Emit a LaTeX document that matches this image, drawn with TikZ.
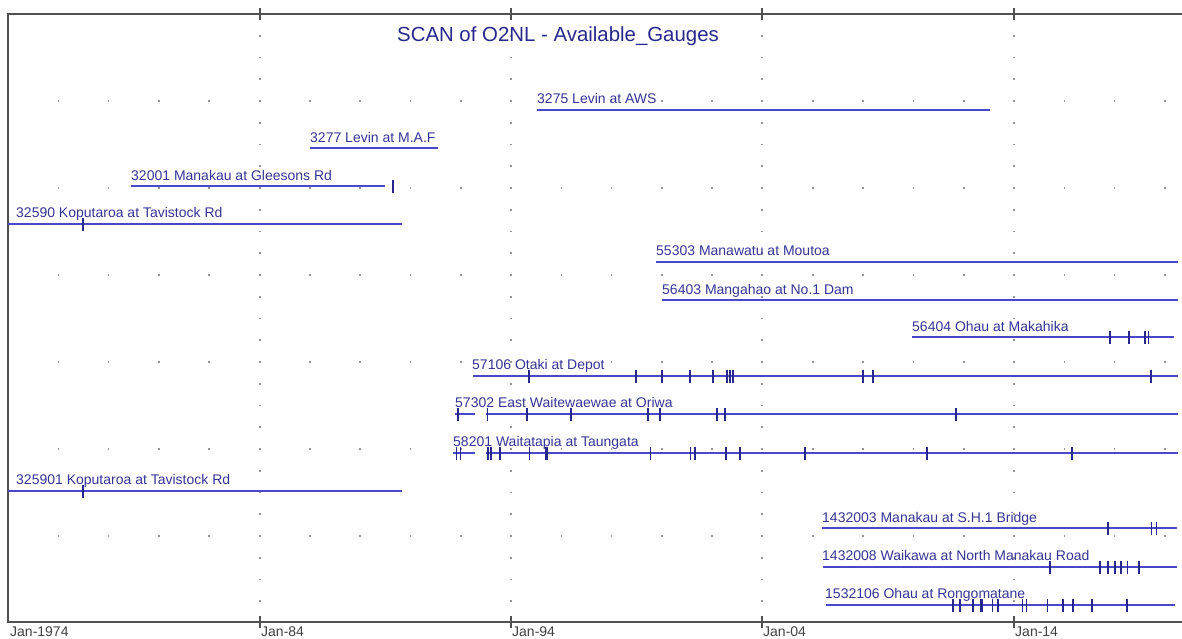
\documentclass[tikz,border=0pt]{standalone}
\usepackage{fontspec}
\setmainfont{Liberation Sans}
\definecolor{gline}{RGB}{72,72,200}
\definecolor{gtext}{RGB}{52,52,150}
\definecolor{gtick}{RGB}{40,40,140}
\definecolor{framecol}{RGB}{80,80,80}
\definecolor{griddot}{RGB}{150,150,150}
\tikzset{
  gaugeline/.style={gline, line width=1.4pt},
  gaugetick/.style={gtick, line width=1.2pt},
  thicktick/.style={gtick, line width=2.6pt},
  gaugelabel/.style={anchor=base west, inner sep=0pt, text=gtext, font=\fontsize{14}{16}\selectfont},
  axislabel/.style={anchor=base west, inner sep=0pt, text=black!75, font=\fontsize{14}{16}\selectfont},
  titlelabel/.style={anchor=base, inner sep=0pt, text=gtick, font=\fontsize{20.4}{22}\selectfont},
  framestyle/.style={framecol, line width=1.4pt},
}
\begin{document}
\begin{tikzpicture}[x=1pt,y=-1pt]
\useasboundingbox (0,0) rectangle (1182,638);
\clip (0,0) rectangle (1182,638);
% grid dots
\foreach \gx in {260,511,762,1014}{
  \foreach \k in {1,...,27}{
    \fill[griddot] (\gx-0.8,14+\k*21.75-0.8) rectangle ++(1.6,1.6);
  }
}
\foreach \gy in {101,188,275,362,449,536}{
  \foreach \k in {1,...,23}{
    \fill[griddot] (8+\k*50.3-0.8,\gy-0.8) rectangle ++(1.6,1.6);
  }
}
% frame
\draw[framestyle] (1182,14) -- (8,14) -- (8,622) -- (1182,622);
\foreach \gx in {260,511,762,1014}{
  \draw[framestyle] (\gx,8) -- (\gx,20);
  \draw[framestyle] (\gx,616) -- (\gx,628);
}
% axis labels
\node[axislabel] (ax74) at (10,636.5) {Jan-1974};
\node[axislabel] (ax84) at (261,636.5) {Jan-84};
\node[axislabel] (ax94) at (512,636.5) {Jan-94};
\node[axislabel] (ax04) at (763,636.5) {Jan-04};
\node[axislabel] (ax14) at (1015,636.5) {Jan-14};
% title
\node[titlelabel] (title) at (558,41.5) {SCAN of O2NL - Available\_Gauges};

% 3275
\node[gaugelabel] (g3275) at (537,103.5) {3275 Levin at AWS};
\draw[gaugeline] (537,110) -- (990,110);
% 3277
\node[gaugelabel] (g3277) at (310,142) {3277 Levin at M.A.F};
\draw[gaugeline] (310,148) -- (438,148);
% 32001
\node[gaugelabel] (g32001) at (131,180) {32001 Manakau at Gleesons Rd};
\draw[gaugeline] (131,186) -- (385,186);
\draw[gaugetick] (393,179.5) -- (393,192.5);
% 32590
\node[gaugelabel] (g32590) at (16,217.5) {32590 Koputaroa at Tavistock Rd};
\draw[gaugeline] (8,224) -- (402,224);
\draw[gaugetick] (83,217.5) -- (83,230.5);
% 55303
\node[gaugelabel] (g55303) at (656,255.5) {55303 Manawatu at Moutoa};
\draw[gaugeline] (656,262) -- (1178,262);
% 56403
\node[gaugelabel] (g56403) at (662,294) {56403 Mangahao at No.1 Dam};
\draw[gaugeline] (662,300) -- (1178,300);
% 56404
\node[gaugelabel] (g56404) at (912,331) {56404 Ohau at Makahika};
\draw[gaugeline] (912,337) -- (1174,337);
\foreach \t in {1129,1145,1148.5} \draw[gaugetick] (\t,330.5) -- (\t,343.5);
\foreach \t in {1110} \draw[thicktick] (\t,330.5) -- (\t,343.5);
% 57106
\node[gaugelabel] (g57106) at (472,369.5) {57106 Otaki at Depot};
\draw[gaugeline] (473,376) -- (1178,376);
\foreach \t in {529,636,662,690,727,730,733,1151} \draw[gaugetick] (\t,369.5) -- (\t,382.5);
\foreach \t in {713,863,873} \draw[thicktick] (\t,369.5) -- (\t,382.5);
% 57302
\node[gaugelabel] (g57302) at (455,407.5) {57302 East Waitewaewae at Oriwa};
\foreach \a/\b in {455/475,486/1178} \draw[gaugeline] (\a,414) -- (\b,414);
\foreach \t in {458,487.5,527,648,660,717,725,956} \draw[gaugetick] (\t,407.5) -- (\t,420.5);
\foreach \t in {571} \draw[thicktick] (\t,407.5) -- (\t,420.5);
% 58201
\node[gaugelabel] (g58201) at (453,446.5) {58201 Waitatapia at Taungata};
\foreach \a/\b in {453/475,486/1178} \draw[gaugeline] (\a,453) -- (\b,453);
\foreach \t in {456.5,460.5,488,491,500,529.5,650.5,690.5,695,726,805,927,1072} \draw[gaugetick] (\t,446.5) -- (\t,459.5);
\foreach \t in {546.5,740} \draw[thicktick] (\t,446.5) -- (\t,459.5);
% 325901
\node[gaugelabel] (g325901) at (16,484.5) {325901 Koputaroa at Tavistock Rd};
\draw[gaugeline] (8,491) -- (402,491);
\draw[gaugetick] (83,484.5) -- (83,497.5);
% 1432003
\node[gaugelabel] (g1432003) at (822,522) {1432003 Manakau at S.H.1 Bridge};
\draw[gaugeline] (822,528) -- (1177,528);
\foreach \t in {1108,1151.5,1156.5} \draw[gaugetick] (\t,521.5) -- (\t,534.5);
% 1432008
\node[gaugelabel] (g1432008) at (822,560.5) {1432008 Waikawa at North Manakau Road};
\draw[gaugeline] (823,567) -- (1177,567);
\foreach \t in {1050,1108,1115,1121,1127.5,1139} \draw[gaugetick] (\t,560.5) -- (\t,573.5);
\foreach \t in {1100} \draw[thicktick] (\t,560.5) -- (\t,573.5);
% 1532106
\node[gaugelabel] (g1532106) at (825,598.5) {1532106 Ohau at Rongomatane};
\draw[gaugeline] (826,605) -- (1175,605);
\foreach \t in {960,973,992.5,998,1022.5,1026.5,1047.5,1063,1073,1092,1127} \draw[gaugetick] (\t,598.5) -- (\t,611.5);
\foreach \t in {953,981.5} \draw[thicktick] (\t,598.5) -- (\t,611.5);
\end{tikzpicture}
\end{document}
